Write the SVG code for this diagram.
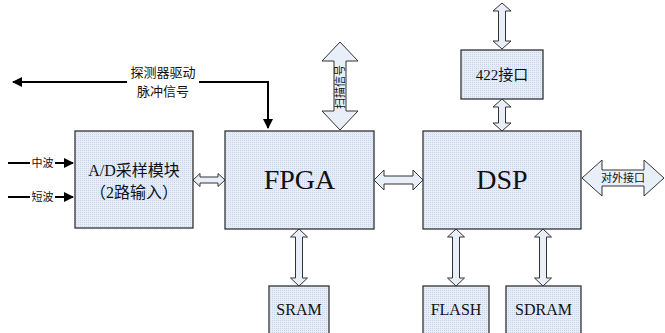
<svg xmlns="http://www.w3.org/2000/svg" width="665" height="333" viewBox="0 0 665 333">
  <defs>
    <pattern id="dots" width="2" height="2" patternUnits="userSpaceOnUse">
      <rect width="2" height="2" fill="#e6edf8"/>
      <rect width="1" height="1" fill="#c9d5e8"/>
    </pattern>
    <marker id="head" viewBox="0 0 10 10" refX="9" refY="5" markerWidth="5" markerHeight="5" orient="auto" markerUnits="strokeWidth">
      <path d="M0,0 L10,5 L0,10 Z" fill="#000"/>
    </marker>
  </defs>
  <style>
    .box { fill: url(#dots); stroke: #333; stroke-width: 1.3; }
    .dbl { fill: #e8eff9; stroke: #333; stroke-width: 1; stroke-linejoin: miter; }
    .wire { fill: none; stroke: #000; stroke-width: 2; }
    .t { font-family: "Liberation Serif", "Noto Sans CJK SC", serif; fill: #111; text-anchor: middle; }
  </style>

  <!-- bus connectors and signal lines -->
  <g id="connectors">
    <path class="dbl" d="M193,180 L200,173.5 L200,177 L218,177 L218,173.5 L225,180 L218,186.5 L218,183 L200,183 L200,186.5 Z"/>
    <path class="dbl" d="M374,180 L384,170 L384,176 L413,176 L413,170 L423,180 L413,190 L413,184 L384,184 L384,190 Z"/>
    <path class="dbl" d="M582,178 L602,160 L602,170 L644,170 L644,160 L664,178 L644,196 L644,186 L602,186 L602,196 Z"/>
    <path class="dbl" d="M340,42 L358,61 L346,61 L346,111 L358,111 L340,130 L322,111 L334,111 L334,61 L322,61 Z"/>
    <path class="dbl" d="M502,3 L511,11 L505.5,11 L505.5,41 L511,41 L502,49 L493,41 L498.5,41 L498.5,11 L493,11 Z"/>
    <path class="dbl" d="M502,99 L511,107 L505.5,107 L505.5,123 L511,123 L502,131 L493,123 L498.5,123 L498.5,107 L493,107 Z"/>
    <path class="dbl" d="M299,229 L307.5,237 L302.5,237 L302.5,278 L307.5,278 L299,286 L290.5,278 L295.5,278 L295.5,237 L290.5,237 Z"/>
    <path class="dbl" d="M456,229 L464.5,237 L459.5,237 L459.5,278 L464.5,278 L456,286 L447.5,278 L452.5,278 L452.5,237 L447.5,237 Z"/>
    <path class="dbl" d="M543,229 L551.5,237 L546.5,237 L546.5,278 L551.5,278 L543,286 L534.5,278 L539.5,278 L539.5,237 L534.5,237 Z"/>

    <!-- detector drive pulse line -->
    <path class="wire" d="M127,82 L13,82" marker-end="url(#head)"/>
    <path class="wire" d="M199,82 L268,82 L268,128" marker-end="url(#head)"/>

    <!-- analog inputs -->
    <path class="wire" d="M8,163 L30,163"/>
    <path class="wire" d="M55,163 L73,163" marker-end="url(#head)"/>
    <path class="wire" d="M8,197 L30,197"/>
    <path class="wire" d="M55,197 L73,197" marker-end="url(#head)"/>

    <text class="t" x="163" y="77" font-size="13">探测器驱动</text>
    <text class="t" x="163" y="96" font-size="13">脉冲信号</text>
    <text class="t" x="42.5" y="167" font-size="11">中波</text>
    <text class="t" x="42.5" y="201" font-size="11">短波</text>
    <text class="t" x="623" y="182" font-size="11">对外接口</text>
    <text class="t" font-size="11" transform="translate(344,87) rotate(-90)">扫描信号</text>
  </g>

  <g id="adc">
    <rect class="box" x="75" y="131" width="118" height="97"/>
    <text class="t" x="134" y="176" font-size="16">A/D采样模块</text>
    <text class="t" x="134" y="198" font-size="16">（2路输入）</text>
  </g>

  <g id="fpga">
    <rect class="box" x="225" y="131" width="149" height="98"/>
    <text class="t" x="299.5" y="189" font-size="28">FPGA</text>
  </g>

  <g id="dsp">
    <rect class="box" x="423" y="131" width="158" height="98"/>
    <text class="t" x="502" y="189" font-size="28">DSP</text>
  </g>

  <g id="if422">
    <rect class="box" x="461" y="50" width="82" height="49"/>
    <text class="t" x="502" y="80" font-size="15">422接口</text>
  </g>

  <g id="sram">
    <rect class="box" x="269" y="286" width="60" height="52"/>
    <text class="t" x="299" y="315" font-size="16">SRAM</text>
  </g>

  <g id="flash">
    <rect class="box" x="423" y="286" width="66" height="52"/>
    <text class="t" x="456" y="315" font-size="16">FLASH</text>
  </g>

  <g id="sdram">
    <rect class="box" x="506" y="286" width="75" height="52"/>
    <text class="t" x="543.5" y="315" font-size="16">SDRAM</text>
  </g>
</svg>
